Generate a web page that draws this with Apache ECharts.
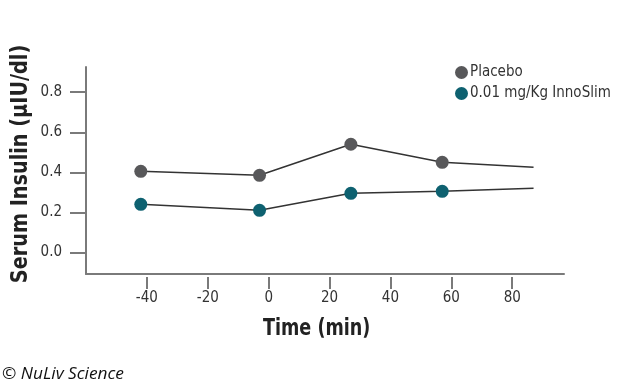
<!DOCTYPE html>
<html>
<head>
<meta charset="utf-8">
<script src="https://cdn.jsdelivr.net/npm/echarts@6/dist/echarts.min.js"></script>
<style>html,body{margin:0;padding:0;background:#fff}#c{width:622px;height:388px}</style>
</head>
<body>
<div id="c"></div>
<script>
var time = [-42, -3, 27, 57, 87];
var placebo = [0.405, 0.385, 0.54, 0.45, 0.425];
var innoslim = [0.24, 0.21, 0.295, 0.305, 0.32];
var xTicks = [-40, -20, 0, 20, 40, 60, 80];
var yTicks = [0, 0.2, 0.4, 0.6, 0.8];
var seriesNames = ['Placebo', '0.01 mg/Kg InnoSlim'];
var colors = ['#58585a', '#0e6170'];

var FONT = '"DejaVu Sans Condensed", "Liberation Sans Narrow", "Roboto", sans-serif';

function mk(vals) {
  return vals.map(function (v, i) {
    var d = { value: [time[i], v] };
    if (i === vals.length - 1) d.symbol = 'none';
    return d;
  });
}

var chart = echarts.init(document.getElementById('c'));
chart.setOption({
  animation: false,
  grid: { left: 86, right: 58, top: 67, bottom: 114 },
  legend: {
    orient: 'vertical', left: 450, top: 60, itemGap: 6,
    itemWidth: 13, itemHeight: 13, icon: 'circle',
    textStyle: { fontFamily: FONT, fontSize: 15, color: '#333', padding: [0, 0, 0, -3] },
    data: seriesNames
  },
  xAxis: [{
    type: 'value', min: -60, max: 97,
    axisLine: { show: true, onZero: false, lineStyle: { color: '#7a7a7a', width: 2 } },
    axisTick: { show: false }, axisLabel: { show: false }, splitLine: { show: false }
  }, {
    type: 'value', min: -60, max: 97, position: 'bottom', offset: 3,
    axisLine: { show: false, onZero: false },
    axisTick: { show: true, length: 12, customValues: xTicks, lineStyle: { color: '#7a7a7a', width: 2 } },
    axisLabel: { customValues: xTicks, margin: 14, fontFamily: FONT, fontSize: 15, color: '#333' },
    splitLine: { show: false }
  }],
  yAxis: {
    type: 'value', min: -0.108, max: 0.926,
    axisLine: { show: true, onZero: false, lineStyle: { color: '#7a7a7a', width: 2 } },
    axisTick: { show: true, length: 16, customValues: yTicks, lineStyle: { color: '#7a7a7a', width: 2 } },
    axisLabel: { customValues: yTicks, margin: 24, fontFamily: FONT, fontSize: 15, color: '#333',
      formatter: function (v) { return v.toFixed(1); } },
    splitLine: { show: false }
  },
  graphic: [
    { type: 'text', x: 316.7, y: 329, scaleX: 0.85, style: { text: 'Time (min)', font: 'bold 23px ' + FONT, fill: '#222', align: 'center', verticalAlign: 'middle' } },
    { type: 'text', x: 21, y: 164, rotation: Math.PI / 2, scaleX: 0.93, style: { text: 'Serum Insulin (µIU/dl)', font: 'bold 23px ' + FONT, fill: '#222', align: 'center', verticalAlign: 'middle' } },
    { type: 'text', x: 2, y: 374, scaleX: 1.08, style: { text: '© NuLiv Science', font: 'italic 16px "Open Sans", sans-serif', fill: '#111', align: 'left', verticalAlign: 'middle' } }
  ],
  series: [{
    name: seriesNames[0], type: 'line', data: mk(placebo),
    symbol: 'circle', symbolSize: 13,
    itemStyle: { color: colors[0] },
    lineStyle: { color: '#333', width: 1.5 }
  }, {
    name: seriesNames[1], type: 'line', data: mk(innoslim),
    symbol: 'circle', symbolSize: 13,
    itemStyle: { color: colors[1] },
    lineStyle: { color: '#333', width: 1.5 }
  }]
});
</script>
</body>
</html>
